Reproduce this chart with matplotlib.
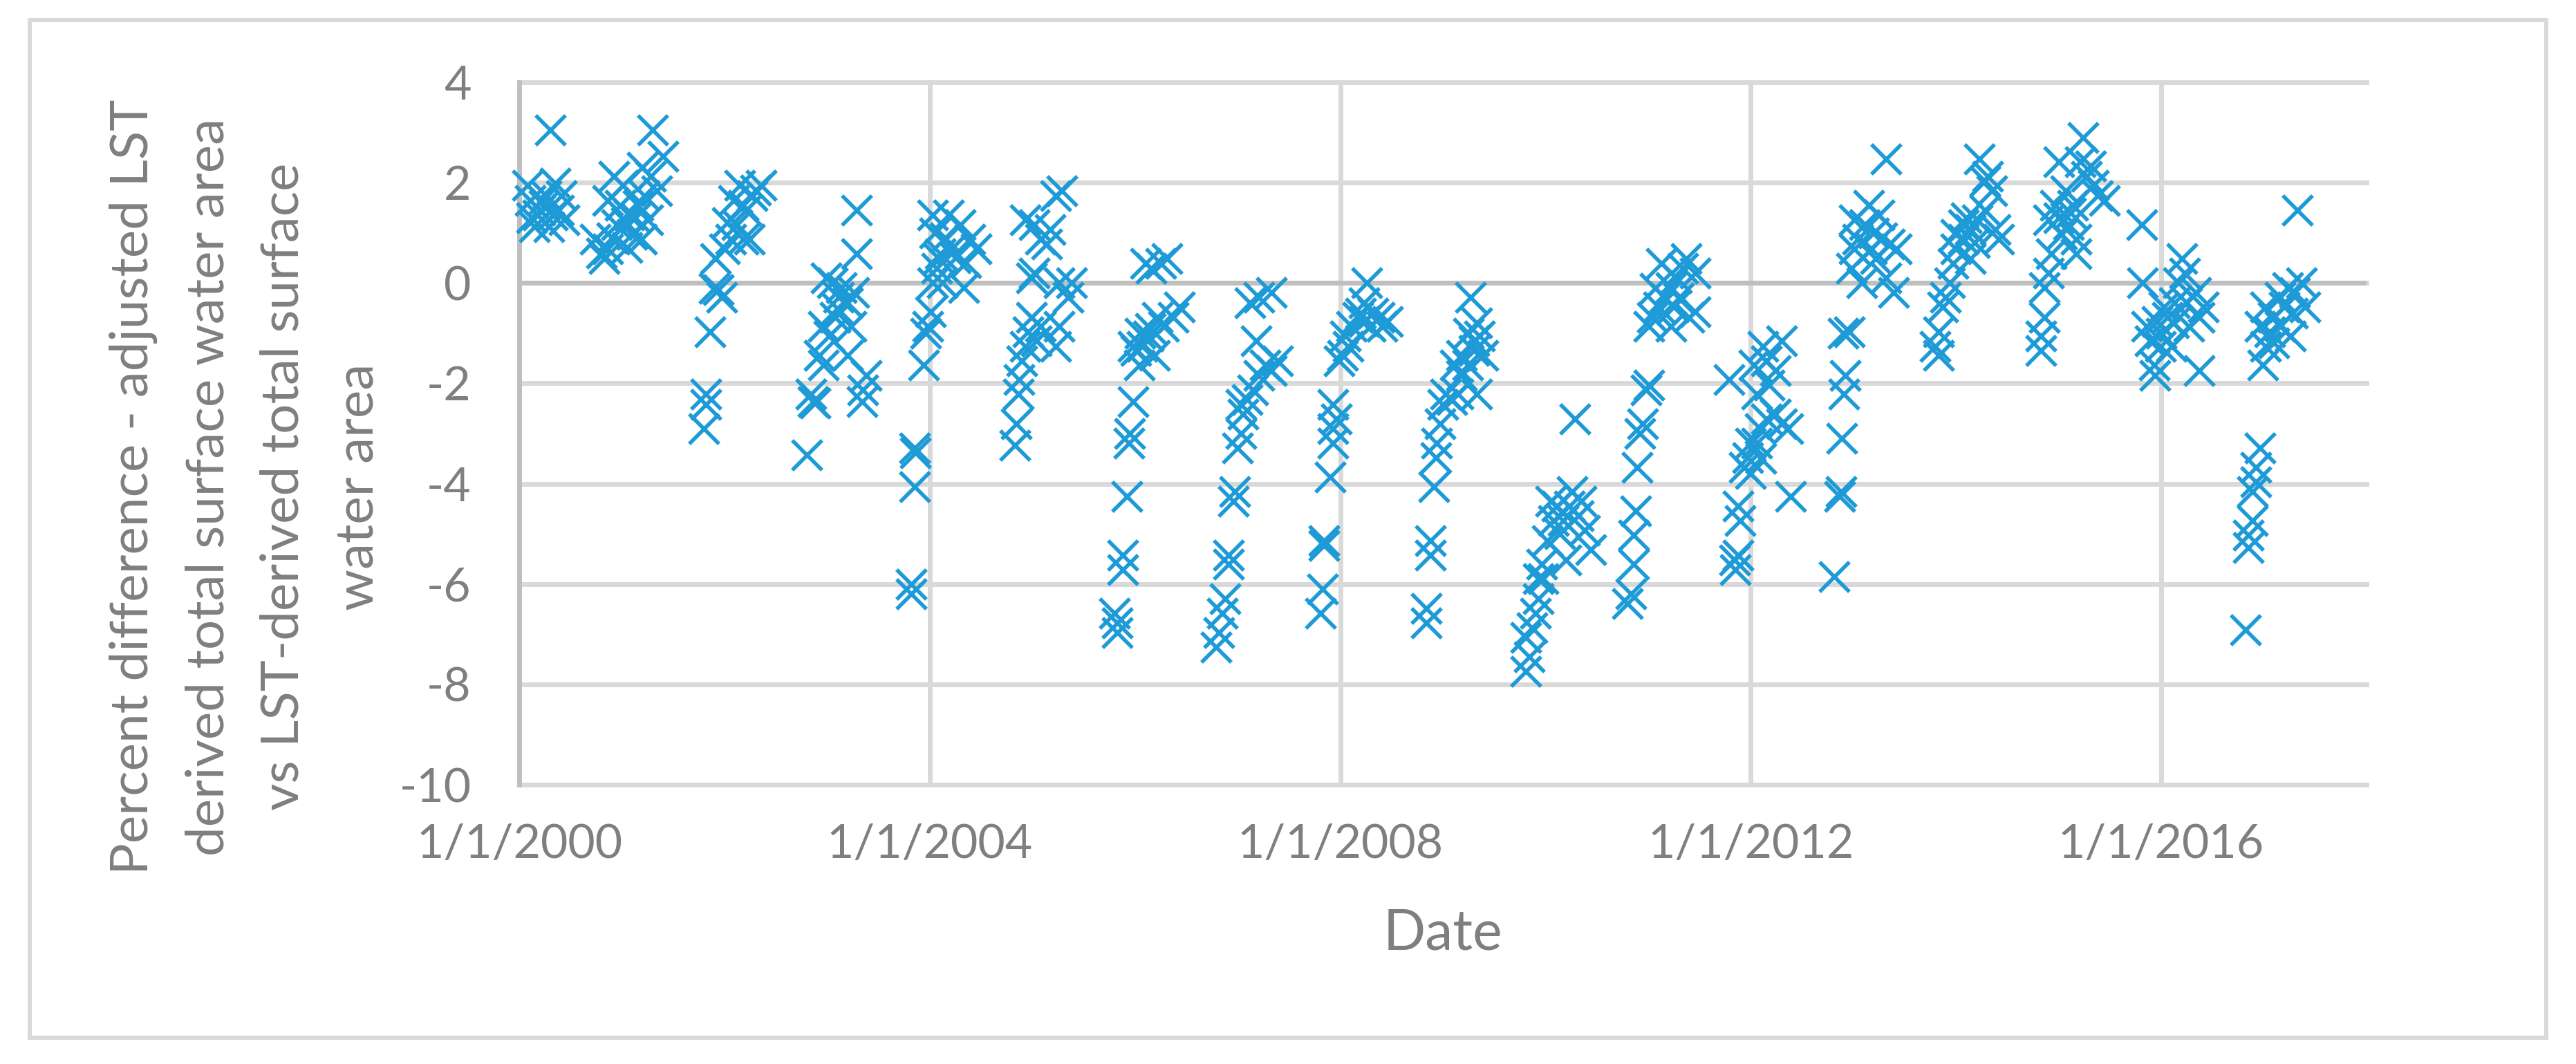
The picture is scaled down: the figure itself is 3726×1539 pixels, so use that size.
import matplotlib
matplotlib.use("Agg")
import matplotlib.pyplot as plt
import matplotlib.dates as mdates
from matplotlib.patches import Rectangle
import numpy as np
import pandas as pd

# decimal year of each scene, one row per season
decimal_year = [
    2000.30, 2000.08, 2000.35, 2000.26, 2000.20, 2000.38, 2000.15, 2000.29, 2000.44, 2000.23, 2000.11, 2000.41, 2000.18, 2000.32, 2000.24, 2000.12,
    2001.30, 2001.40, 2000.83, 2000.86, 2000.95, 2001.07, 2001.16, 2001.22, 2001.28, 2001.01, 2000.86, 2001.10, 2001.19, 2001.34, 2000.98, 2000.74, 2000.92, 2001.25, 2001.04, 2000.90, 2001.13, 2000.80, 2001.05, 2001.20,
    2001.86, 2001.94, 2001.97, 2001.91, 2002.00, 2002.06, 2002.12, 2002.21, 2002.15, 2002.27, 2002.36, 2002.18, 2002.24, 2002.09, 2001.82, 2001.80, 2001.82, 2002.18, 2002.30, 2002.03, 2001.90,
    2002.80, 2002.86, 2002.84, 2002.92, 2002.96, 2003.02, 2003.08, 2003.11, 2003.14, 2003.20, 2003.26, 2003.29, 2003.29, 2003.23, 2003.20, 2003.35, 2003.38, 2003.34, 2002.96, 2002.99, 2003.05, 2002.88, 2003.10,
    2003.82, 2003.82, 2003.85, 2003.85, 2003.86, 2003.94, 2003.98, 2004.01, 2004.03, 2004.07, 2004.10, 2004.03, 2004.18, 2004.30, 2004.39, 2004.45, 2004.33, 2004.09, 2004.12, 2004.21, 2004.15, 2004.25, 2004.05, 2004.35, 2003.96,
    2004.83, 2004.84, 2004.86, 2004.87, 2004.90, 2004.93, 2004.96, 2004.99, 2005.04, 2005.08, 2005.23, 2005.26, 2005.35, 2005.38, 2005.26, 2005.02, 2004.99, 2004.93, 2005.08, 2005.17, 2005.23, 2005.29, 2005.02, 2005.14,
    2005.83, 2005.83, 2005.80, 2005.88, 2005.88, 2005.92, 2005.94, 2005.95, 2005.98, 2006.01, 2006.07, 2006.13, 2006.19, 2006.22, 2006.28, 2006.37, 2006.43, 2006.16, 2006.25, 2006.31, 2006.10, 2005.98, 2006.04, 2006.15, 2006.05,
    2006.79, 2006.82, 2006.85, 2006.88, 2006.91, 2006.91, 2006.96, 2006.97, 2007.00, 2007.03, 2007.05, 2007.09, 2007.15, 2007.21, 2007.27, 2007.33, 2007.39, 2007.18, 2007.21, 2007.33, 2007.12, 2007.03,
    2007.81, 2007.83, 2007.84, 2007.84, 2007.90, 2007.93, 2007.93, 2007.96, 2007.93, 2007.99, 2008.05, 2008.11, 2008.17, 2008.23, 2008.29, 2008.38, 2008.41, 2008.26, 2008.23, 2008.02, 2008.08, 2008.46, 2008.20, 2008.32,
    2008.84, 2008.84, 2008.88, 2008.88, 2008.91, 2008.93, 2008.94, 2008.97, 2009.00, 2009.03, 2009.09, 2009.15, 2009.18, 2009.24, 2009.30, 2009.33, 2009.39, 2009.27, 2009.30, 2009.18, 2009.12, 2009.36, 2009.25, 2009.33,
    2009.81, 2009.84, 2009.81, 2009.87, 2009.90, 2009.93, 2009.93, 2009.96, 2010.02, 2010.08, 2010.11, 2010.17, 2010.20, 2010.23, 2010.32, 2010.38, 2010.44, 2010.05, 2010.26, 2010.35, 2010.29, 2009.98, 2010.14,
    2010.80, 2010.83, 2010.86, 2010.86, 2010.88, 2010.89, 2010.92, 2010.95, 2010.98, 2011.01, 2011.01, 2011.04, 2011.10, 2011.16, 2011.22, 2011.28, 2011.34, 2011.37, 2011.13, 2011.22, 2011.25, 2011.40, 2011.46, 2011.46, 2011.07, 2011.30,
    2011.79, 2011.84, 2011.85, 2011.88, 2011.90, 2011.88, 2011.94, 2011.97, 2012.00, 2012.06, 2012.09, 2012.15, 2012.24, 2012.30, 2012.36, 2012.39, 2012.18, 2012.24, 2012.30, 2012.15, 2012.06, 2012.03, 2012.12, 2012.00, 2012.10,
    2012.81, 2012.87, 2012.88, 2012.89, 2012.91, 2012.92, 2012.96, 2012.98, 2013.01, 2013.04, 2013.11, 2013.15, 2013.32, 2013.18, 2013.25, 2013.08, 2013.35, 2013.39, 2013.32, 2013.22, 2013.01, 2013.42, 2012.90, 2013.20, 2013.28,
    2013.83, 2013.80, 2013.83, 2013.87, 2013.90, 2013.94, 2013.97, 2014.00, 2014.07, 2014.14, 2014.21, 2014.28, 2014.35, 2014.28, 2014.23, 2014.31, 2014.38, 2014.42, 2014.14, 2014.07, 2014.00, 2014.10, 2014.18,
    2014.83, 2014.83, 2014.86, 2014.86, 2014.90, 2014.93, 2014.90, 2014.97, 2015.03, 2015.10, 2015.00, 2015.17, 2015.24, 2015.27, 2015.34, 2015.38, 2015.45, 2015.17, 2015.14, 2015.07, 2015.21, 2015.31, 2015.00, 2015.12,
    2015.81, 2015.82, 2015.86, 2015.89, 2015.93, 2015.94, 2015.96, 2016.03, 2016.06, 2016.13, 2016.20, 2016.23, 2016.34, 2016.37, 2016.37, 2016.10, 2016.17, 2016.27, 2015.99, 2016.41, 2016.00, 2016.12, 2016.25,
    2016.82, 2016.85, 2016.85, 2016.89, 2016.89, 2016.92, 2016.92, 2016.96, 2016.99, 2017.02, 2017.06, 2017.09, 2017.16, 2017.23, 2017.30, 2017.37, 2017.40, 2017.26, 2017.16, 2017.33, 2017.20, 2017.02, 2016.96, 2017.10, 2017.28,
]

# percent difference, same rows as above
pct_diff = [
    3.05, 1.94, 1.99, 1.74, 1.45, 1.45, 1.12, 1.12, 1.26, 1.65, 1.65, 1.74, 1.36, 1.36, 1.55, 1.30,
    3.05, 2.52, 0.49, 0.68, 1.16, 1.36, 1.55, 1.74, 2.13, 1.94, 1.65, 0.97, 0.87, 1.84, 1.55, 0.87, 2.13, 1.26, 1.20, 0.90, 1.30, 0.60, 0.70, 2.30,
    -0.97, -0.14, -0.29, 0.49, 0.68, 0.87, 1.16, 1.45, 1.94, 1.74, 1.94, 0.87, 0.87, 1.65, -2.22, -2.90, -2.42, 1.55, 1.85, 1.20, -0.10,
    -3.43, -2.37, -2.22, -1.45, -1.64, -1.06, -0.68, -0.29, -0.09, -0.39, -0.19, 1.45, 0.58, -0.87, -1.45, -2.13, -1.84, -2.37, -0.87, 0.10, 0.00, -2.40, -0.50,
    -6.00, -6.19, -3.29, -4.06, -3.39, -1.64, -0.87, -0.58, 0.00, 0.29, 0.58, 1.36, 1.36, 1.16, 0.87, 0.68, -0.09, 0.49, 0.00, 0.68, 0.90, 0.50, 1.00, 0.40, -1.00,
    -3.24, -2.81, -2.22, -1.93, -1.55, -1.26, -0.97, -0.68, -1.16, -0.87, -1.26, -0.87, -0.29, 0.00, 0.00, 0.20, 0.10, 1.26, 0.87, 1.07, 1.74, 1.84, 1.16, 0.78,
    -6.77, -6.97, -6.58, -5.42, -5.71, -4.26, -3.19, -3.00, -2.37, -1.35, -1.26, -1.06, -1.45, -0.68, -0.87, -0.68, -0.48, 0.29, 0.39, 0.49, 0.39, -1.26, -1.64, -0.90, -1.00,
    -7.26, -6.97, -6.58, -6.29, -5.61, -5.42, -4.35, -4.16, -3.29, -3.00, -2.61, -2.32, -2.13, -1.84, -1.64, -1.74, -1.55, -1.16, -0.29, -0.19, -0.39, -2.42,
    -6.58, -6.10, -5.23, -5.13, -3.87, -3.19, -2.90, -2.71, -2.42, -1.55, -1.06, -0.87, -0.68, -0.77, -0.87, -0.68, -0.87, 0.00, -0.39, -1.45, -1.26, -0.77, -0.60, -0.60,
    -6.77, -6.48, -5.42, -5.13, -4.06, -3.48, -3.19, -2.81, -2.42, -2.22, -2.32, -2.22, -1.84, -1.64, -1.35, -2.22, -1.45, -0.29, -1.16, -1.45, -1.64, -1.06, -1.00, -0.80,
    -7.74, -7.45, -7.06, -6.87, -6.58, -6.29, -5.90, -5.61, -5.13, -4.74, -4.45, -4.74, -5.52, -4.45, -4.64, -4.93, -5.32, -4.35, -4.16, -4.35, -2.71, -5.90, -5.00,
    -6.39, -6.19, -5.61, -5.03, -4.55, -3.68, -3.00, -2.81, -2.13, -2.03, -0.87, -0.68, -0.48, -0.29, -0.09, 0.10, 0.29, 0.49, 0.39, -0.87, -0.48, -0.68, 0.20, -0.58, -0.10, -0.30,
    -1.93, -5.52, -5.71, -5.42, -4.74, -4.45, -3.68, -3.48, -3.19, -3.19, -2.90, -2.71, -2.61, -2.81, -2.90, -4.26, -2.03, -1.74, -1.16, -1.55, -2.22, -1.64, -1.26, -3.80, -3.50,
    -5.85, -4.26, -4.16, -3.10, -2.22, -1.84, -0.97, 0.29, 0.68, 0.87, 1.16, 1.55, 2.47, 0.68, 1.36, 0.00, 0.78, -0.19, 0.10, 0.49, 1.26, 0.68, -1.00, 1.00, 0.90,
    -1.45, -1.26, -0.97, -0.48, -0.29, 0.00, 0.39, 0.68, 0.87, 1.07, 1.26, 1.45, 1.84, 2.03, 2.47, 2.13, 1.07, 0.87, 0.49, 1.16, 0.97, 1.30, 0.80,
    -1.35, -1.06, -0.68, -0.09, 0.20, 0.58, 1.26, 1.55, 0.97, 1.16, 2.42, 0.87, 2.90, 2.13, 1.94, 1.74, 1.65, 0.58, 1.55, 1.84, 2.42, 2.33, 1.30, 1.40,
    1.16, 0.00, -0.87, -1.16, -1.64, -1.84, -0.77, -0.48, -0.68, -0.39, 0.49, 0.20, -0.19, -0.68, -1.74, -1.26, 0.00, -0.87, -1.26, -0.48, -1.00, -0.80, -0.40,
    -6.92, -5.27, -5.03, -4.74, -4.16, -3.97, -3.68, -3.29, -1.64, -1.26, -0.97, -0.68, -0.29, -0.09, -0.19, 0.00, -0.48, -1.06, -0.87, 1.45, -0.48, -0.48, -0.87, -1.20, -0.60,
]

y_ticks = [4, 2, 0, -2, -4, -6, -8, -10]
x_start, x_end = "2000-01-01", "2018-01-01"
y_label = ("Percent difference - adjusted LST\nderived total surface water area\n"
           "vs LST-derived total surface\nwater area")
x_label = "Date"

BLUE = "#1e9bd7"
GRID = "#d9d9d9"
AXIS = "#bfbfbf"
TXT = "#7f7f7f"

plt.rcParams["font.family"] = ["Lato", "DejaVu Sans"]
plt.rcParams["axes.unicode_minus"] = False

dates = pd.Timestamp("2000-01-01") + pd.to_timedelta(
    (np.array(decimal_year) - 2000) * 365.25, unit="D")

fig = plt.figure(figsize=(37.26, 15.39), dpi=100)
ax = fig.add_axes([0.2016, 0.2625, 0.9187 - 0.2016, 0.9227 - 0.2625])

ax.scatter(dates, pct_diff, marker="x", s=31 ** 2, linewidths=4.0,
           color=BLUE, zorder=3, clip_on=False)

ax.set_xlim(pd.Timestamp(x_start), pd.Timestamp(x_end))
ax.set_ylim(min(y_ticks), max(y_ticks))
ax.set_yticks(y_ticks)
ax.xaxis.set_major_locator(mdates.YearLocator(base=4))
ax.xaxis.set_major_formatter(plt.FuncFormatter(
    lambda v, pos: "{d.month}/{d.day}/{d.year}".format(d=mdates.num2date(v))))

ax.grid(True, color=GRID, linewidth=5.0, zorder=0)
for ln in ax.get_xgridlines() + ax.get_ygridlines():
    ln.set_clip_on(False)
ax.axhline(0, color=AXIS, linewidth=5.0, zorder=1)
for s in ("top", "right", "bottom"):
    ax.spines[s].set_visible(False)
ax.spines["left"].set_color(AXIS)
ax.spines["left"].set_linewidth(5.0)
ax.spines["left"].set_zorder(2)
ax.set_axisbelow(True)

ax.tick_params(axis="both", length=0, labelcolor=TXT, labelsize=49)
ax.tick_params(axis="y", pad=50)
ax.tick_params(axis="x", pad=40)

fig.text(2087 / 3726, 1 - 1351 / 1539, x_label, ha="center", va="center",
         fontsize=58, color=TXT)
fig.text(355 / 3726, 1 - 704 / 1539, y_label, ha="center", va="center",
         rotation=90, multialignment="center", fontsize=55, color=TXT,
         linespacing=1.7)

fig.patches.append(Rectangle((43 / 3726, 38 / 1539), (3683 - 43) / 3726,
                             (1501 - 29) / 1539, transform=fig.transFigure,
                             fill=False, edgecolor=GRID, linewidth=4.3))

fig.savefig("out.png", dpi=100, facecolor="white")
